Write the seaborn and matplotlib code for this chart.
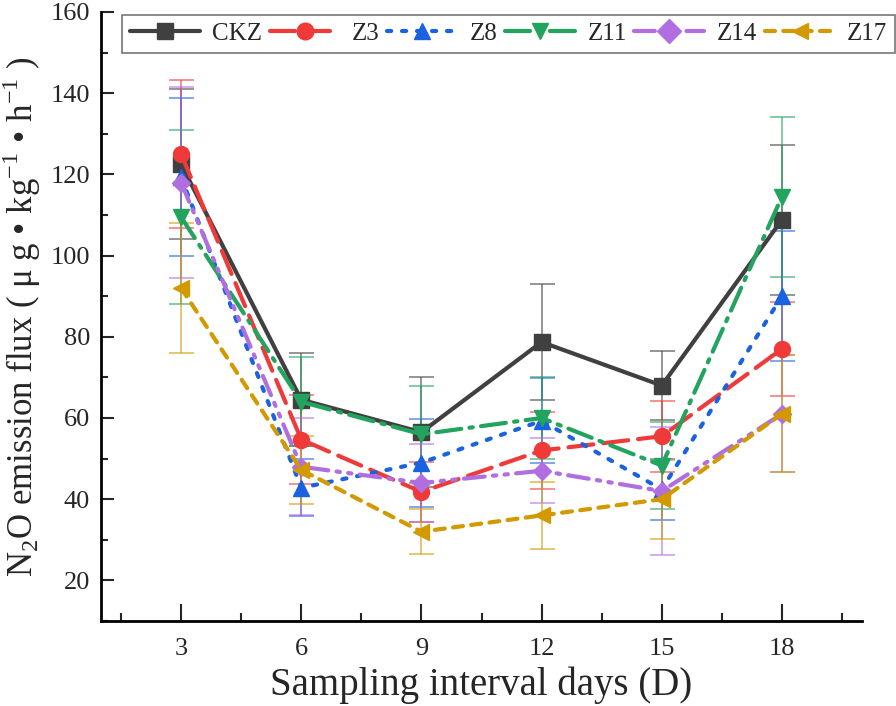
import matplotlib
matplotlib.use("Agg")
import matplotlib.pyplot as plt
from matplotlib.ticker import MultipleLocator
import numpy as np
import pandas as pd
import seaborn as sns

# ---------------------------------------------------------------------------
# Data
# ---------------------------------------------------------------------------
days = [3, 6, 9, 12, 15, 18]
groups = ["CKZ", "Z3", "Z8", "Z11", "Z14", "Z17"]

ckz = [122.5, 64.5, 56.5, 78.7, 68.0, 108.8]
z3 = [125.0, 54.7, 41.8, 52.0, 55.5, 77.0]
z8 = [119.3, 42.8, 49.0, 59.3, 42.4, 90.0]
z11 = [109.5, 64.0, 56.0, 60.0, 48.3, 114.5]
z14 = [118.0, 48.0, 44.0, 47.0, 42.0, 61.0]
z17 = [92.0, 47.2, 32.0, 36.0, 40.0, 61.0]

ckz_err = [18.5, 11.5, 13.5, 14.3, 8.6, 18.4]
z3_err = [18.2, 11.0, 7.4, 9.5, 8.7, 11.5]
z8_err = [19.5, 7.0, 10.8, 10.5, 7.5, 16.0]
z11_err = [21.5, 11.0, 12.0, 10.0, 10.7, 19.7]
z14_err = [23.5, 12.0, 9.5, 8.0, 15.8, 14.4]
z17_err = [16.0, 8.3, 5.5, 8.3, 9.7, 14.4]

values = [ckz, z3, z8, z11, z14, z17]
errors = [ckz_err, z3_err, z8_err, z11_err, z14_err, z17_err]

colors = ["#404040", "#f03a3a", "#1a62e0", "#22a35e", "#b06ee0", "#d29a00"]
markers = ["s", "o", "^", "v", "D", "<"]
dashes = ["", (6, 2.4), (1, 2.6), (6, 2, 0.8, 2), (5, 2, 0.8, 2, 0.8, 2), (2.4, 2)]

df = pd.DataFrame({
    "day": np.tile(days, len(groups)),
    "flux": np.concatenate(values),
    "group": np.repeat(groups, len(days)),
})

# ---------------------------------------------------------------------------
# Plot
# ---------------------------------------------------------------------------
sns.set_style("white")
plt.rcParams["font.family"] = ["Liberation Serif", "DejaVu Serif"]
plt.rcParams["mathtext.fontset"] = "custom"
plt.rcParams["mathtext.rm"] = "Liberation Serif"

fig = plt.figure(figsize=(8.96, 7.06), dpi=100)
ax = fig.add_axes([101 / 896, 1 - 621 / 706, (862 - 101) / 896, (621 - 12) / 706])

palette = dict(zip(groups, colors))

sns.lineplot(data=df, x="day", y="flux", hue="group", style="group",
             hue_order=groups, style_order=groups, palette=palette,
             markers=dict(zip(groups, markers)), dashes=dict(zip(groups, dashes)),
             linewidth=3, markersize=11.5, markeredgewidth=1,
             dash_capstyle="round", ax=ax, zorder=4)

# marker edges in the series colour (seaborn draws them white)
for line in ax.get_lines():
    line.set_markeredgecolor(line.get_color())
    if line.get_marker() == "D":
        line.set_markersize(9.5)

# error bars, added after the recolouring so their caps keep their colour
for g, v, e in zip(groups, values, errors):
    ax.errorbar(days, v, yerr=e, fmt="none", ecolor=palette[g], alpha=0.6,
                elinewidth=1.3, capsize=9, capthick=1.3, zorder=3)

ax.set_xlim(1, 20)
ax.set_ylim(10, 160)
ax.xaxis.set_major_locator(MultipleLocator(3))
ax.xaxis.set_minor_locator(MultipleLocator(1.5))
ax.yaxis.set_major_locator(MultipleLocator(20))
ax.yaxis.set_minor_locator(MultipleLocator(10))
ax.tick_params(which="both", direction="in", bottom=True, left=True,
               labelsize=19, width=1.5, pad=8)
ax.tick_params(axis="x", which="major", length=12)
ax.tick_params(axis="x", which="minor", length=6)
ax.tick_params(axis="y", which="major", length=9)
ax.tick_params(axis="y", which="minor", length=5)
ax.tick_params(axis="x", pad=12)
for s in ["top", "right"]:
    ax.spines[s].set_visible(False)
for s in ["left", "bottom"]:
    ax.spines[s].set_linewidth(2)
    ax.spines[s].set_color("black")

ax.set_xlabel("Sampling interval days (D)", fontsize=28, labelpad=5)
ax.set_ylabel("N$_2$O emission flux ( μ g • kg$^{-1}$ • h$^{-1}$ )", fontsize=25, labelpad=5)

sns.move_legend(ax, "upper left", bbox_to_anchor=(122 / 896, 1 - 15 / 706),
                bbox_transform=fig.transFigure, ncol=6, title=None, fontsize=18,
                frameon=True, fancybox=False, edgecolor="#555555",
                handlelength=2.8, handletextpad=0.5, columnspacing=0.3,
                borderpad=0.3, borderaxespad=0)
leg = ax.get_legend()
leg.get_frame().set_linewidth(1.2)
for h in leg.legend_handles:
    h.set_markeredgecolor(h.get_color())
    h.set_markersize(12)

fig.savefig("out.png", dpi=100)
